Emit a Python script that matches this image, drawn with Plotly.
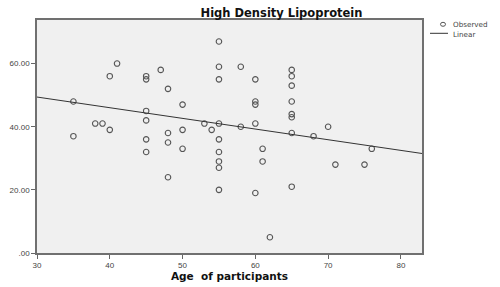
import plotly.graph_objects as go
import numpy as np

# Observed data: age (x) and HDL (y)
age = [35, 35, 38, 39, 40, 40, 41,
       45, 45, 45, 45, 45, 45, 47,
       48, 48, 48, 48, 50, 50, 50, 53, 54,
       55, 55, 55, 55, 55, 55, 55, 55, 55,
       58, 58, 60, 60, 60, 60, 60, 61, 61, 62,
       65, 65, 65, 65, 65, 65, 65, 65,
       68, 70, 71, 75, 76]
hdl = [48, 37, 41, 41, 56, 39, 60,
       56, 55, 45, 42, 36, 32, 58,
       52, 38, 35, 24, 47, 39, 33, 41, 39,
       67, 59, 55, 41, 36, 32, 29, 27, 20,
       59, 40, 55, 48, 47, 41, 19, 33, 29, 5,
       58, 56, 53, 48, 44, 43, 38, 21,
       37, 40, 28, 28, 33]

# Linear fit (as shown by SPSS)
fit_intercept = 59.54
fit_slope = -0.338

x_range = [30, 82.9]
y_range = [0, 73.8]
x_ticks = [30, 40, 50, 60, 70, 80]
y_ticks = [0, 20, 40, 60]
y_tick_text = [".00", "20.00", "40.00", "60.00"]

fit_x = np.array(x_range)
fit_y = fit_intercept + fit_slope * fit_x

fig = go.Figure()
fig.add_trace(go.Scatter(
    x=age, y=hdl, mode="markers", name="Observed",
    marker=dict(symbol="circle-open", size=5.5, color="#555555",
                line=dict(width=1.1, color="#555555")),
    cliponaxis=False, showlegend=False))
fig.add_trace(go.Scatter(
    x=fit_x, y=fit_y, mode="lines", name="Linear",
    line=dict(color="#333333", width=1), showlegend=False))

font = "Liberation Sans, Arial, sans-serif"
bold = "DejaVu Sans, Verdana, sans-serif"
fig.update_layout(
    width=500, height=287,
    margin=dict(l=37, r=78, t=20, b=34),
    paper_bgcolor="white", plot_bgcolor="#f0f0f0",
    font=dict(family=font, size=8, color="#444444"),
    title=dict(text="<b>High Density Lipoprotein</b>", x=0.563, xanchor="center",
               y=1 - 13 / 287, yanchor="middle",
               font=dict(family=bold, size=11.5, color="#111111")),
    xaxis=dict(range=x_range, tickvals=x_ticks, showgrid=False, zeroline=False,
               automargin=False,
               ticks="outside", ticklen=4, tickcolor="#666666",
               showline=True, linecolor="#707070", linewidth=1.5, mirror=True,
               tickfont=dict(size=8, color="#444444"),
               title=dict(text="<b>Age  of participants</b>", standoff=2,
                          font=dict(family=bold, size=10.5, color="#111111"))),
    yaxis=dict(range=y_range, tickvals=y_ticks, ticktext=y_tick_text,
               showgrid=False, zeroline=False, automargin=False,
               ticks="outside", ticklen=4, tickcolor="#666666",
               showline=True, linecolor="#707070", linewidth=1.5, mirror=True,
               tickfont=dict(size=8, color="#444444")),
)

# Manual legend (to match SPSS compact style)
def px(xp):
    return (xp - 37) / 385

def py(yp):
    return (253 - yp) / 233

fig.add_shape(type="circle", xref="paper", yref="paper",
              x0=px(440.5), x1=px(445.5), y0=py(26.3), y1=py(22.3),
              line=dict(color="#555555", width=1))
fig.add_shape(type="line", xref="paper", yref="paper",
              x0=px(430), x1=px(448), y0=py(33.3), y1=py(33.3),
              line=dict(color="#333333", width=1))
fig.add_annotation(text="Observed", xref="paper", yref="paper",
                   x=px(452), y=py(24.3), xanchor="left", yanchor="middle",
                   showarrow=False, borderpad=0,
                   font=dict(family=bold, size=7.2, color="#444444"))
fig.add_annotation(text="Linear", xref="paper", yref="paper",
                   x=px(452), y=py(34), xanchor="left", yanchor="middle",
                   showarrow=False, borderpad=0,
                   font=dict(family=bold, size=7.2, color="#444444"))

fig.write_html("out.html", config={"displayModeBar": False},
               post_script="document.body.style.margin='0';")
